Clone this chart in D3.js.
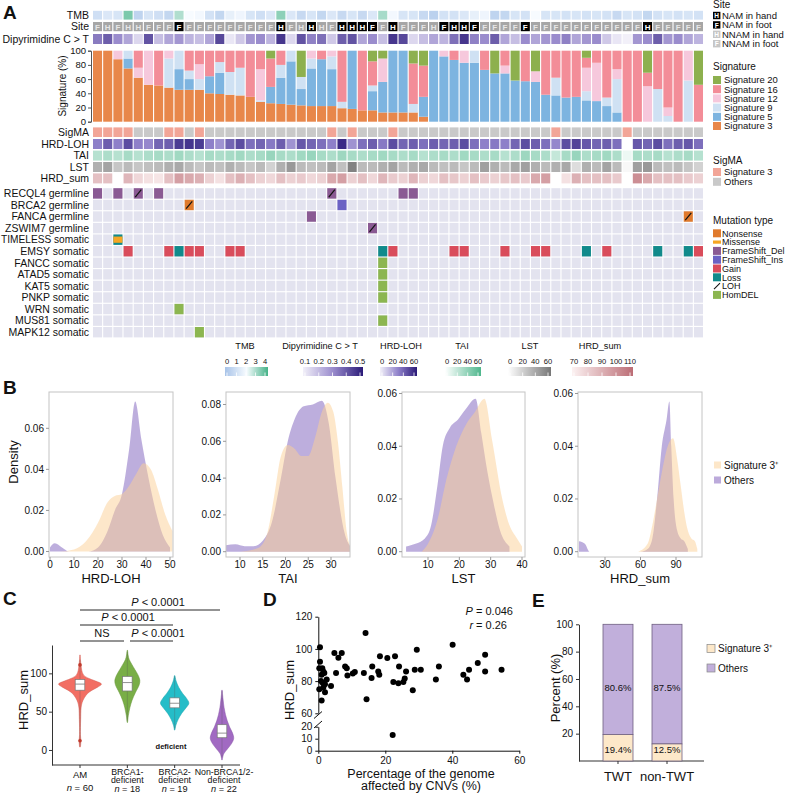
<!DOCTYPE html>
<html>
<head>
<meta charset="utf-8">
<script src="https://cdn.jsdelivr.net/npm/d3@7"></script>
<style>
  body { margin: 0; background: #fff; }
  svg { font-family: "Liberation Sans", Arial, sans-serif; }
</style>
</head>
<body>
<script>
// ---------------- data: panel A ----------------
// site: upper case = NNAM (grey), lower case = NAM (black); letter H = hand, F = foot
const siteCodes = "FHFHHFFFfFFFFFFFFFhFHhHFhhhfFh" + "FFFHfhhfFFFFfFFFFFFFFFFFhFFFFF"

const tmb = [1.0,1.3,1.2,3.4,0.6,1.2,1.0,0.7,2.8,2.0, 1.9,1.1,0.7,1.6,1.8,1.2,1.0,1.3,3.2,1.3,
             0.8,1.2,0.7,1.3,0.8,1.2,0.8,1.3,2.9,1.9, 1.2,1.2,0.8,0.5,1.1,1.1,1.3,1.6,1.8,0.6,
             0.7,1.2,1.1,2.0,1.2,1.2,1.1,1.2,1.1,1.2, 1.1,0.8,1.2,1.1,0.7,1.1,1.2,1.1,1.2,1.1]
const dipyrimidine = [0.33,0.38,0.3,0.25,0.15,0.4,0.2,0.25,0.28,0.22, 0.2,0.25,0.42,0.12,0.18,0.28,0.3,0.22,0.45,0.15,
             0.4,0.32,0.35,0.18,0.38,0.4,0.25,0.3,0.2,0.45, 0.42,0.15,0.2,0.25,0.22,0.35,0.45,0.32,0.3,0.38,
             0.25,0.2,0.3,0.25,0.28,0.3,0.32,0.25,0.28,0.3, 0.18,0.12,0.1,0.28,0.3,0.38,0.28,0.3,0.25,0.22]

const sig3  = [100,100,88,75,62,52,51,48,45,45, 45,40,39,38,37,35,28,26,25,24, 23,22,22,22,19,18,16,16,13,13,
               13,13,7,0,0,0,0,0,0,0, 0,0,0,0,0,0,0,0,0,0, 0,0,0,0,0,0,0,0,0,0]
const sig5  = [0,0,0,14,0,0,0,0,29,15, 0,24,30,0,0,0,0,23,37,61, 23,53,66,52,0,82,0,27,43,87,
               87,0,28,100,92,87,83,83,73,68, 68,58,57,56,38,37,34,35,30,29, 22,13,0,0,0,0,0,0,0,0]
const sig9  = [0,0,0,11,0,0,0,41,26,12, 15,0,15,32,39,0,2,0,18,15, 17,14,0,18,9,0,0,8,0,0,
               0,12,0,0,0,0,0,17,0,0, 0,0,0,0,0,25,0,0,13,0, 12,47,0,0,0,46,8,0,58,0]
const sig12 = [0,0,12,0,14,48,0,11,0,0, 21,0,0,0,0,0,44,0,0,0, 0,11,0,8,0,0,0,0,33,0,
               0,0,0,0,8,0,17,0,0,0, 11,0,0,15,0,0,0,0,33,54, 0,14,0,0,50,0,12,0,42,0]
const sig16 = [0,0,0,0,24,0,49,0,0,28, 19,36,16,30,24,65,26,40,20,0, 0,0,12,0,72,0,84,34,0,0,
               0,57,44,0,0,13,0,0,27,0, 21,0,43,0,62,38,66,65,14,17, 66,26,100,100,19,54,80,100,0,52]
const sig20 = [0,0,0,0,0,0,0,0,0,0, 0,0,0,0,0,0,0,11,0,0, 37,0,0,0,0,0,0,15,11,0,
               0,18,21,0,0,0,0,0,0,32, 0,42,0,29,0,0,0,0,10,0, 0,0,0,0,31,0,0,0,0,48]
const sigKeys = ["Signature 3","Signature 5","Signature 9","Signature 12","Signature 16","Signature 20"]
const sigColors = ["#e8874a","#7db4e0","#cfe1f3","#f6c8dc","#f38d98","#8db04e"]

const sigmaSig3Cols = [0,1,2,3,7,8,10,23,25,29,45,52]
const hrdLoh = [30,40,30,45,30,28,38,40,50,52, 50,30,25,38,45,35,38,32,40,25, 42,38,35,30,55,25,35,40,32,45,
                38,40,35,40,38,40,45,35,30,32, 30,38,45,40,35,28,45,48,42,38, 40,35,null,42,38,45,35,40,42,35]
const tai = [25,28,25,30,25,28,30,28,32,28, 25,30,28,30,32,28,30,35,30,28, 32,35,30,28,33,30,28,30,32,30,
             28,30,25,28,30,28,32,30,28,30, 25,28,33,30,28,20,30,35,28,30, 32,28,6,30,28,30,25,28,30,25]
const lst = [35,40,25,30,25,28,30,35,38,30, 25,30,28,35,30,25,30,20,35,45, 30,28,30,40,28,55,30,30,35,40,
             30,35,38,30,28,30,25,30,42,35, 30,38,42,35,30,35,38,15,35,30, 40,30,3,42,45,30,28,30,25,20]
const hrdSum = [85,85,null,88,78,75,74,85,95,92, 90,80,75,85,90,85,80,78,85,80, 82,78,80,92,95,80,85,78,88,82,
                80,88,80,78,85,83,80,85,82,80, 83,85,82,92,95,null,75,90,85,85, 85,82,null,100,92,85,85,85,82,80]

const geneNames = ["RECQL4 germline","BRCA2 germline","FANCA germline","ZSWIM7 germline","TIMELESS somatic",
  "EMSY somatic","FANCC somatic","ATAD5 somatic","KAT5 somatic","PNKP somatic","WRN somatic","MUS81 somatic","MAPK12 somatic"]
const alterations = [
  ["RECQL4 germline",0,"FrameShift_Del"],["RECQL4 germline",2,"FrameShift_Del"],["RECQL4 germline",4,"FrameShift_Del"],
  ["RECQL4 germline",6,"FrameShift_Del"],["RECQL4 germline",23,"FrameShift_Del"],["RECQL4 germline",30,"FrameShift_Del"],
  ["RECQL4 germline",31,"FrameShift_Del"],["BRCA2 germline",9,"Nonsense"],["BRCA2 germline",24,"FrameShift_Ins"],
  ["FANCA germline",21,"FrameShift_Del"],["FANCA germline",58,"Nonsense"],["ZSWIM7 germline",27,"FrameShift_Del"],
  ["TIMELESS somatic",2,"Loss"],["TIMELESS somatic",2,"Missense"],
  ["FANCC somatic",28,"HomDEL"],["ATAD5 somatic",28,"HomDEL"],["KAT5 somatic",28,"HomDEL"],["PNKP somatic",28,"HomDEL"],
  ["WRN somatic",8,"HomDEL"],["MUS81 somatic",28,"HomDEL"],["MAPK12 somatic",10,"HomDEL"]
]
const emsyGain = [3,7,9,10,13,14,29,35,36,40,43,44,50,59]
const emsyLoss = [8,28,48,55,58]
const lohCells = [["RECQL4 germline",4],["RECQL4 germline",23],["BRCA2 germline",9],["FANCA germline",58],["ZSWIM7 germline",27]]
const mutTypes = ["Nonsense","Missense","FrameShift_Del","FrameShift_Ins","Gain","Loss","LOH","HomDEL"]
const mutColors = ["#e07a2c","#f6a623","#8a5a93","#6b62c4","#d94c5b","#118a8b","#000","#8cb650"]

// ---------------- data: panel B (densities) ----------------
const lohOthers = [[0,0.002],[2,0.004],[5,0.002],[8,0],[16,0],[20,0.002],[24,0.01],[27,0.02],[30,0.028],[33,0.05],[35.5,0.073],[38,0.055],[41,0.036],[44,0.02],[47,0.008],[50,0.002]]
const lohSig3   = [[4,0],[10,0.001],[15,0.005],[20,0.014],[24,0.024],[27,0.027],[30,0.028],[33,0.032],[36,0.038],[39,0.043],[42,0.04],[45,0.03],[48,0.018],[51,0.01]]
const taiOthers = [[6,0.003],[9,0.004],[11,0.003],[13,0.003],[15,0.006],[17,0.016],[19,0.04],[20.5,0.06],[22,0.072],[24,0.079],[26,0.08],[28,0.082],[29.5,0.07],[31,0.04],[33,0.01],[34.5,0.002]]
const taiSig3   = [[10,0],[14,0.002],[16,0.01],[17.5,0.03],[19,0.052],[20.5,0.058],[22,0.056],[23.5,0.052],[25,0.052],[26.5,0.062],[28,0.076],[29.3,0.081],[30.5,0.076],[31.5,0.06],[32.5,0.035],[33.5,0.01],[34.5,0.002]]
const lstOthers = [[3,0.002],[6,0.003],[9,0.005],[11,0.01],[13,0.025],[14.7,0.04],[17,0.047],[19.5,0.05],[22,0.054],[25.2,0.058],[27,0.045],[29,0.03],[31,0.018],[33,0.008],[36,0.002]]
const lstSig3   = [[8,0],[10,0.003],[13,0.012],[16,0.028],[19,0.04],[22,0.048],[25,0.053],[28,0.058],[30.5,0.042],[33.7,0.02],[36,0.01],[38.4,0.005],[40,0.002]]
const sumOthers = [[8,0.004],[13,0.003],[17,0],[60,0],[66,0.001],[70,0.005],[74,0.02],[78,0.04],[82,0.05],[84.4,0.057],[86,0.04],[88,0.02],[91,0.008],[94,0.005],[97,0.004],[100,0.001]]
const sumSig3   = [[58,0],[66,0.003],[70,0.01],[74,0.02],[78,0.03],[83,0.04],[87.5,0.043],[91,0.035],[94,0.025],[97,0.015],[100,0.008],[103,0.005],[106,0.004],[108,0.001]]

// ---------------- data: panel C ----------------
const groupsC = ["AM","BRCA1-deficient","BRCA2-deficient","Non-BRCA1/2-deficient"]
const groupN = [60,18,19,22]
const violinColors = ["#f1665b","#72aa3d","#19b9c5","#9c62bf"]
// [HRD_sum, relative width]
const violinAM    = [[4,0.02],[12,0.04],[20,0.02],[40,0.03],[55,0.05],[62,0.1],[68,0.2],[74,0.36],[78,0.56],[82,0.82],[86,1],[90,0.72],[94,0.36],[98,0.16],[104,0.08],[110,0.05],[118,0.02],[124,0.01]]
const violinBRCA1 = [[36,0.02],[45,0.08],[55,0.2],[65,0.38],[75,0.65],[85,0.95],[91,1],[98,0.85],[105,0.6],[112,0.35],[118,0.15],[124,0.06],[130,0.02]]
const violinBRCA2 = [[26,0.02],[32,0.08],[40,0.25],[48,0.5],[55,0.8],[61,1],[67,0.85],[74,0.55],[82,0.28],[90,0.1],[97,0.02]]
const violinNon   = [[-13,0.02],[-5,0.15],[2,0.5],[8,0.8],[15,1],[22,0.9],[30,0.65],[38,0.45],[46,0.3],[55,0.18],[65,0.1],[72,0.05],[78,0.02]]
const violinHalfWidth = [21.5,12.5,14.2,11.7]
const boxQ1 = [78,77,55,16], boxMed = [86,88,61,22], boxQ3 = [92,96,68,33]
const whiskLo = [5,38,28,-10], whiskHi = [118,128,96,77]
const outliersAM = [12,111]

// ---------------- data: panel D ----------------
const cnvPct = [0.3,0.5,0.5,1.2,1.5,1.8,0.8,1.3,2.0,2.5,0.3,1.5,2.0,1.0,3.8,1.0,
  4.8,5.3,6.0,7.0,8.0,8.5,8.7,10.3,10.9,13.6,14.1,14.4,15.9,16.1,18.4,17.9,18.2,20.6,22.9,22.4,23.9,24.1,25.4,25.8,26.2,
  28.2,28.8,29.4,30.6,35.1,36.0,40.1,43.3,44.4,45.0,47.6,49.8,49.8,54.7,22.2]
const hrdSumD = [88,101,92,88,86,85,80,79,78,81,75,76,73,68,77,84,
  97.5,85,94.5,97.5,89,88,83.5,84.7,85.6,85,109.8,68.8,82,89,95.4,86,84,94.4,95.4,79.4,78.6,89,79.5,81.6,86,
  74.3,87,99.5,87,81,89,102.6,84,81,87,91.3,96.4,86,87,13]

// ---------------- data: panel E ----------------
const groupsE = ["TWT","non-TWT"]
const sig3PctE = [19.4,12.5]
const othersPctE = [80.6,87.5]

// =====================================================================
const svg = d3.select("body").append("svg").attr("width", 789).attr("height", 794)

function txt(x, y, s, size, anchor = "start", extra = {}) {
  const t = svg.append("text").attr("x", x).attr("y", y).attr("font-size", size)
    .attr("text-anchor", anchor).attr("fill", "#111").text(s)
  for (const k in extra) t.attr(k, extra[k])
  return t
}
function panelLetter(s, x, y) { txt(x, y, s, 19, "start", {"font-weight": "bold"}) }

// ---------------- Panel A ----------------
panelLetter("A", 3, 19)
const col = d3.scaleBand().domain(d3.range(60)).range([93, 703]).paddingInner(0.11)
const bw = col.bandwidth()

function rowLabel(s, yMid) {
  const t = txt(89, yMid + 3.7, s, 10.5, "end")
  // squeeze the longest labels so they stay inside the page like the original
  if (t.node().getComputedTextLength() > 88) t.attr("textLength", 88).attr("lengthAdjust", "spacingAndGlyphs")
}

function heatTrack(values, y, h, color) {
  svg.append("g").selectAll("rect").data(values).join("rect")
    .attr("x", (d, i) => col(i)).attr("y", y).attr("width", bw).attr("height", h)
    .attr("fill", d => d == null ? "#fff" : color(d))
}

const tmbColor = d3.scaleLinear().domain([0, 2, 4]).range(["#a7c3e8", "#f7fbff", "#46b388"])
const dipColor = d3.scaleLinear().domain([0.1, 0.3, 0.5]).range(["#f2f0f9", "#9a8ccd", "#2a1a78"])
const lohColor = d3.scaleLinear().domain([0, 30, 60]).range(["#f2f0f9", "#8e80c9", "#2a1a78"])
const taiColor = d3.scaleLinear().domain([0, 60]).range(["#ffffff", "#4fb78d"])
const lstColor = d3.scaleLinear().domain([0, 60]).range(["#ffffff", "#777777"])
const sumColor = d3.scaleLinear().domain([70, 110]).range(["#fcf2f2", "#bc6d75"])

heatTrack(tmb, 10.8, 8.8, tmbColor); rowLabel("TMB", 15.2)

// site row
const siteG = svg.append("g")
siteCodes.split("").forEach((c, i) => {
  const nam = c === c.toLowerCase()
  siteG.append("rect").attr("x", col(i)).attr("y", 22).attr("width", bw).attr("height", 9.2)
    .attr("fill", nam ? "#000" : "#a6a6a6")
  siteG.append("text").attr("x", col(i) + bw / 2).attr("y", 29.8).attr("text-anchor", "middle")
    .attr("font-size", 8).attr("font-weight", "bold").attr("fill", nam ? "#fff" : "#e6e6e6").text(c.toUpperCase())
})
rowLabel("Site", 26.6)

heatTrack(dipyrimidine, 34, 10, dipColor); rowLabel("Dipyrimidine C > T", 39)

// stacked signature bars
const ySig = d3.scaleLinear().domain([0, 100]).range([121.7, 50.7])
const sigRows = d3.range(60).map(i => {
  const r = {}
  const series = [sig3, sig5, sig9, sig12, sig16, sig20]
  sigKeys.forEach((k, j) => r[k] = series[j][i])
  return r
})
const stacked = d3.stack().keys(sigKeys)(sigRows)
svg.append("g").selectAll("g").data(stacked).join("g")
  .attr("fill", (d, i) => sigColors[i])
  .selectAll("rect").data(d => d).join("rect")
  .attr("x", (d, i) => col(i)).attr("width", bw)
  .attr("y", d => ySig(d[1])).attr("height", d => ySig(d[0]) - ySig(d[1]))

const sigAxis = svg.append("g").attr("transform", "translate(91,0)")
  .call(d3.axisLeft(ySig).tickValues([0, 20, 40, 60, 80, 100]).tickSize(3).tickPadding(2))
sigAxis.selectAll("text").attr("font-size", 9.5).attr("fill", "#111").attr("font-family", "Liberation Sans, Arial")
sigAxis.selectAll("line,path").attr("stroke", "#555")
txt(0, 0, "Signature (%)", 10, "middle", {transform: "translate(66,86) rotate(-90)"})

// SigMA + HRD tracks
heatTrack(d3.range(60).map(i => sigmaSig3Cols.includes(i) ? 1 : 0), 127.4, 9.6, d => d ? "#f2a597" : "#c9c9c9")
rowLabel("SigMA", 132.2)
heatTrack(hrdLoh, 139, 10, lohColor); rowLabel("HRD-LOH", 144)
heatTrack(tai, 150.6, 10, taiColor); rowLabel("TAI", 155.6)
heatTrack(lst, 162, 10, lstColor); rowLabel("LST", 167)
heatTrack(hrdSum, 173.4, 10, sumColor); rowLabel("HRD_sum", 178.4)

// gene matrix
const geneY = d3.scaleBand().domain(geneNames).range([188.2, 337.4]).paddingInner(0.1)
const gh = geneY.bandwidth()
const gridG = svg.append("g")
geneNames.forEach(g => {
  gridG.selectAll(null).data(d3.range(60)).join("rect")
    .attr("x", i => col(i)).attr("y", geneY(g)).attr("width", bw).attr("height", gh).attr("fill", "#e3e3ef")
  rowLabel(g, geneY(g) + gh / 2)
})
const typeColor = d3.scaleOrdinal(mutTypes, mutColors)
const allAlts = alterations.concat(emsyGain.map(c => ["EMSY somatic", c, "Gain"]), emsyLoss.map(c => ["EMSY somatic", c, "Loss"]))
allAlts.forEach(([g, c, t]) => {
  const y0 = geneY(g)
  if (t === "Missense") {
    gridG.append("rect").attr("x", col(c)).attr("y", y0 + gh * 0.2).attr("width", bw).attr("height", gh * 0.6).attr("fill", typeColor(t))
  } else {
    gridG.append("rect").attr("x", col(c)).attr("y", y0).attr("width", bw).attr("height", gh).attr("fill", typeColor(t))
  }
})
lohCells.forEach(([g, c]) => {
  gridG.append("line").attr("x1", col(c) + 1.5).attr("y1", geneY(g) + gh - 1.5)
    .attr("x2", col(c) + bw - 1.5).attr("y2", geneY(g) + 1.5).attr("stroke", "#111").attr("stroke-width", 1.2)
})

// right legends of panel A
const lgx = 713
txt(lgx, 8, "Site", 10)
const siteLeg = [["H", true, "NAM in hand"], ["F", true, "NAM in foot"], ["H", false, "NNAM in hand"], ["F", false, "NNAM in foot"]]
siteLeg.forEach(([l, nam, lab], i) => {
  const cy = 15.5 + i * 9.4
  svg.append("rect").attr("x", lgx).attr("y", cy - 3.7).attr("width", 7.4).attr("height", 7.4).attr("fill", nam ? "#000" : "#c6c6c6")
  svg.append("text").attr("x", lgx + 3.7).attr("y", cy + 2.6).attr("text-anchor", "middle").attr("font-size", 6.5)
    .attr("font-weight", "bold").attr("fill", "#fff").text(l)
  txt(lgx + 9, cy + 3.4, lab, 9.5)
})
txt(lgx, 70, "Signature", 10)
sigKeys.slice().reverse().forEach((k, i) => {
  const cy = 80 + i * 9.2
  svg.append("rect").attr("x", lgx).attr("y", cy - 4).attr("width", 8).attr("height", 8).attr("fill", sigColors[5 - i])
  txt(lgx + 11, cy + 3.4, k, 9.5)
})
txt(lgx, 164, "SigMA", 10)
;[["Signature 3", "#f2a597"], ["Others", "#c9c9c9"]].forEach(([k, c], i) => {
  const cy = 172 + i * 9.8
  svg.append("rect").attr("x", lgx).attr("y", cy - 4).attr("width", 8).attr("height", 8).attr("fill", c)
  txt(lgx + 11, cy + 3.4, k, 9.5)
})
txt(lgx, 224, "Mutation type", 10)
mutTypes.forEach((k, i) => {
  const cy = 233.3 + i * 8.8
  if (k === "LOH") {
    svg.append("line").attr("x1", lgx + 1).attr("y1", cy + 3).attr("x2", lgx + 7).attr("y2", cy - 3).attr("stroke", "#111").attr("stroke-width", 1.1)
  } else if (k === "Missense") {
    svg.append("rect").attr("x", lgx).attr("y", cy - 1.6).attr("width", 8).attr("height", 3.2).attr("fill", mutColors[i])
  } else {
    svg.append("rect").attr("x", lgx).attr("y", cy - 4).attr("width", 8).attr("height", 8).attr("fill", mutColors[i])
  }
  txt(lgx + 9, cy + 3.2, k, 9)
})

// colour bar legends
let gradN = 0
function colorBar(title, color, ticks, x0, x1, titleX) {
  const id = "grad" + (gradN++)
  const dom = d3.extent(color.domain())
  const grad = svg.append("defs").append("linearGradient").attr("id", id)
  d3.range(0, 1.0001, 0.1).forEach(f => {
    grad.append("stop").attr("offset", f).attr("stop-color", color(dom[0] + f * (dom[1] - dom[0])))
  })
  svg.append("rect").attr("x", x0).attr("y", 367).attr("width", x1 - x0).attr("height", 9).attr("fill", `url(#${id})`)
  const xs = d3.scaleLinear().domain([ticks[0], ticks[ticks.length - 1]]).range([x0 + 2, x1 - 3])
  ticks.forEach(t => {
    svg.append("line").attr("x1", xs(t)).attr("x2", xs(t)).attr("y1", 372.5).attr("y2", 376).attr("stroke", "#fff").attr("stroke-width", 0.8)
    txt(xs(t), 363.5, String(t), 7.6, "middle")
  })
  txt(titleX, 349, title, 9.2, "middle")
}
colorBar("TMB", tmbColor, [0, 1, 2, 3, 4], 225, 268, 245)
colorBar("Dipyrimidine C > T", dipColor, [0.1, 0.2, 0.3, 0.4, 0.5], 303, 363, 320)
colorBar("HRD-LOH", lohColor, [0, 20, 40, 60], 380, 417, 401)
colorBar("TAI", taiColor, [0, 20, 40, 60], 445, 481, 462)
colorBar("LST", lstColor, [0, 20, 40, 60], 508, 551, 530)
colorBar("HRD_sum", sumColor, [70, 80, 90, 100, 110], 572, 633, 600)

// ---------------- Panel B ----------------
panelLetter("B", 3, 394)
txt(0, 0, "Density", 13, "middle", {transform: "translate(18,462) rotate(-90)"})
function densityPanel(p) {
  const x = d3.scaleLinear().domain(p.xd).range(p.xr)
  const y = d3.scaleLinear().domain(p.yd).range(p.yr)
  const [bx0, by0, bx1, by1] = p.box
  const clip = "clip" + p.name.replace(/[^A-Za-z]/g, "")
  svg.append("clipPath").attr("id", clip).append("rect").attr("x", bx0).attr("y", by0).attr("width", bx1 - bx0).attr("height", by1 - by0)
  const area = d3.area().x(d => x(d[0])).y0(y(0)).y1(d => y(d[1])).curve(d3.curveMonotoneX)
  const g = svg.append("g").attr("clip-path", `url(#${clip})`)
  g.append("path").datum(p.others).attr("d", area).attr("fill", "#a48fd0").attr("fill-opacity", 0.72)
  g.append("path").datum(p.sig3).attr("d", area).attr("fill", "#fbcf95").attr("fill-opacity", 0.5)
  svg.append("rect").attr("x", bx0).attr("y", by0).attr("width", bx1 - bx0).attr("height", by1 - by0)
    .attr("fill", "none").attr("stroke", "#c4c4c4").attr("stroke-width", 1)
  p.yt.forEach(t => {
    svg.append("line").attr("x1", bx0 - 3).attr("x2", bx0).attr("y1", y(t)).attr("y2", y(t)).attr("stroke", "#999")
    txt(bx0 - 5, y(t) + 3.5, t.toFixed(2), 10, "end")
  })
  p.xt.forEach(t => {
    svg.append("line").attr("x1", x(t)).attr("x2", x(t)).attr("y1", by1).attr("y2", by1 + 3).attr("stroke", "#999")
    txt(x(t), 568, String(t), 10, "middle")
  })
  txt((bx0 + bx1) / 2, 583, p.name, 13, "middle")
}
densityPanel({name: "HRD-LOH", box: [49, 392, 173, 557], xd: [0, 50], xr: [50, 170], yd: [0, 0.06], yr: [551.5, 428.3],
  yt: [0, 0.02, 0.04, 0.06], xt: [0, 10, 20, 30, 40, 50], others: lohOthers, sig3: lohSig3})
densityPanel({name: "TAI", box: [226, 392, 350, 557], xd: [10, 30], xr: [240, 331], yd: [0, 0.08], yr: [551.7, 404.5],
  yt: [0, 0.02, 0.04, 0.06, 0.08], xt: [10, 15, 20, 25, 30], others: taiOthers, sig3: taiSig3})
densityPanel({name: "LST", box: [402, 392, 525, 557], xd: [10, 40], xr: [428, 522], yd: [0, 0.06], yr: [551.7, 393.5],
  yt: [0, 0.02, 0.04, 0.06], xt: [10, 20, 30, 40], others: lstOthers, sig3: lstSig3})
densityPanel({name: "HRD_sum", box: [578, 392, 702, 557], xd: [30, 90], xr: [605, 676], yd: [0, 0.06], yr: [551.7, 393.5],
  yt: [0, 0.02, 0.04, 0.06], xt: [30, 60, 90], others: sumOthers, sig3: sumSig3})
svg.append("rect").attr("x", 714).attr("y", 461.5).attr("width", 7).attr("height", 7).attr("fill", "#fde7c9")
txt(724, 468.5, "Signature 3\u207A", 10)
svg.append("rect").attr("x", 714).attr("y", 476.5).attr("width", 7).attr("height", 7).attr("fill", "#bcaadb")
txt(724, 483.5, "Others", 10)

// ---------------- Panel C ----------------
panelLetter("C", 3, 605)
const yC = d3.scaleLinear().domain([-19.6, 137]).range([765, 645])
const xC = d3.scalePoint().domain(groupsC).range([80, 222])
const axC = svg.append("g").attr("transform", "translate(52,0)").call(d3.axisLeft(yC).tickValues([0, 50, 100]).tickSize(3).tickPadding(2).tickSizeOuter(0))
axC.selectAll("text").attr("font-size", 10).attr("fill", "#111").attr("font-family", "Liberation Sans, Arial")
axC.selectAll("line,path").attr("stroke", "#333")
svg.append("line").attr("x1", 52).attr("x2", 240).attr("y1", 765).attr("y2", 765).attr("stroke", "#333")
txt(0, 0, "HRD_sum", 13, "middle", {transform: "translate(28,700) rotate(-90)"})
const violins = [violinAM, violinBRCA1, violinBRCA2, violinNon]
groupsC.forEach((gname, i) => {
  const cx = xC(gname)
  const area = d3.area().y(d => yC(d[0])).x0(d => cx - d[1] * violinHalfWidth[i]).x1(d => cx + d[1] * violinHalfWidth[i]).curve(d3.curveCatmullRom)
  svg.append("path").datum(violins[i]).attr("d", area).attr("fill", violinColors[i]).attr("fill-opacity", 0.95)
    .attr("stroke", d3.color(violinColors[i]).darker(0.4)).attr("stroke-width", 0.5)
  svg.append("line").attr("x1", cx).attr("x2", cx).attr("y1", yC(whiskLo[i])).attr("y2", yC(whiskHi[i])).attr("stroke", "#555").attr("stroke-width", 0.5).attr("stroke-opacity", 0.6)
  svg.append("rect").attr("x", cx - 4.8).attr("width", 9.6).attr("y", yC(boxQ3[i])).attr("height", yC(boxQ1[i]) - yC(boxQ3[i]))
    .attr("fill", "#fff").attr("stroke", "#777").attr("stroke-width", 0.7)
  svg.append("line").attr("x1", cx - 4.8).attr("x2", cx + 4.8).attr("y1", yC(boxMed[i])).attr("y2", yC(boxMed[i])).attr("stroke", "#777").attr("stroke-width", 0.8)
  svg.append("line").attr("x1", cx).attr("x2", cx).attr("y1", 765).attr("y2", 768).attr("stroke", "#333")
  const parts = gname === "AM" ? ["AM"] : gname.startsWith("Non") ? ["Non-BRCA1/2-", "deficient"] : [gname.split("-")[0] + "-", "deficient"]
  const lx = gname.startsWith("Non") ? cx + 2 : cx
  if (parts.length === 1) {
    txt(lx, 778, parts[0], 9.5, "middle")
    txt(lx, 791, "", 9.5, "middle").html(`<tspan font-style="italic">n</tspan> = ${groupN[i]}`)
  } else {
    txt(lx, 774.8, parts[0], 8.8, "middle")
    txt(lx, 783, parts[1], 8.8, "middle")
    txt(lx, 791.8, "", 9.2, "middle").html(`<tspan font-style="italic">n</tspan> = ${groupN[i]}`)
  }
})
outliersAM.forEach(v => svg.append("circle").attr("cx", xC("AM")).attr("cy", yC(v)).attr("r", 1.8).attr("fill", "#c0392b"))
txt(171, 749, "deficient", 7.5, "middle", {"font-weight": "bold"})
function sigBar(x1, x2, y, label, lx) {
  svg.append("line").attr("x1", x1).attr("x2", x2).attr("y1", y).attr("y2", y).attr("stroke", "#111").attr("stroke-width", 0.9)
  const t = txt(lx, y - 4, "", 11, "middle")
  if (label === "NS") t.text("NS")
  else t.html(`<tspan font-style="italic">P</tspan> &lt; 0.0001`)
}
sigBar(80, 220, 610, "P", 158)
sigBar(80, 173, 625, "P", 128)
sigBar(80, 124, 641, "NS", 102)
sigBar(130, 173, 641, "P", 158)

// ---------------- Panel D ----------------
panelLetter("D", 263, 606)
const xD = d3.scaleLinear().domain([0, 60]).range([318.3, 519.3])
const yDup = d3.scaleLinear().domain([60, 120]).range([713.3, 616.7])
const yDlo = d3.scaleLinear().domain([0, 20]).range([750.7, 726.7])
const axDx = svg.append("g").attr("transform", "translate(0,750.7)").call(d3.axisBottom(xD).tickValues([0, 20, 40, 60]).tickSize(3).tickSizeOuter(0))
const axDu = svg.append("g").attr("transform", "translate(318.3,0)").call(d3.axisLeft(yDup).tickValues([60, 80, 100, 120]).tickSize(3).tickSizeOuter(0))
const axDl = svg.append("g").attr("transform", "translate(318.3,0)").call(d3.axisLeft(yDlo).tickValues([0, 10, 20]).tickSize(3).tickSizeOuter(0))
;[axDx, axDu, axDl].forEach(a => {
  a.selectAll("text").attr("font-size", 10).attr("fill", "#111").attr("font-family", "Liberation Sans, Arial")
  a.selectAll("line,path").attr("stroke", "#111")
})
svg.append("line").attr("x1", 314).attr("y1", 718.5).attr("x2", 322).attr("y2", 711.5).attr("stroke", "#111").attr("stroke-width", 1)
svg.append("line").attr("x1", 314).attr("y1", 728).attr("x2", 322).attr("y2", 721).attr("stroke", "#111").attr("stroke-width", 1)
svg.append("g").selectAll("circle").data(cnvPct).join("circle")
  .attr("cx", d => xD(d)).attr("cy", (d, i) => hrdSumD[i] >= 60 ? yDup(hrdSumD[i]) : yDlo(hrdSumD[i]))
  .attr("r", 3).attr("fill", "#000")
txt(0, 0, "HRD_sum", 13, "middle", {transform: "translate(294,690) rotate(-90)"})
txt(421, 777.5, "Percentage of the genome", 12.5, "middle")
txt(421, 790, "affected by CNVs (%)", 12.5, "middle")
txt(513, 615, "", 11, "end").html(`<tspan font-style="italic">P</tspan> = 0.046`)
txt(507, 629, "", 11, "end").html(`<tspan font-style="italic">r</tspan> = 0.26`)

// ---------------- Panel E ----------------
panelLetter("E", 532, 607)
const yE = d3.scaleLinear().domain([0, 100]).range([761, 624.3])
const xE = d3.scaleBand().domain(groupsE).range([583.4, 701.6]).paddingInner(0.388).paddingOuter(0.4)
const axEy = svg.append("g").attr("transform", "translate(579,0)").call(d3.axisLeft(yE).tickValues([20, 40, 60, 80, 100]).tickSize(3).tickSizeOuter(0))
axEy.selectAll("text").attr("font-size", 10).attr("fill", "#111").attr("font-family", "Liberation Sans, Arial")
axEy.selectAll("line,path").attr("stroke", "#333")
svg.append("line").attr("x1", 579).attr("x2", 704).attr("y1", 761).attr("y2", 761).attr("stroke", "#333")
groupsE.forEach((g, i) => {
  const x0 = xE(g), w = xE.bandwidth()
  svg.append("rect").attr("x", x0).attr("width", w).attr("y", yE(100)).attr("height", yE(sig3PctE[i]) - yE(100))
    .attr("fill", "#c1afdb").attr("stroke", "#6e5f80").attr("stroke-width", 0.8)
  svg.append("rect").attr("x", x0).attr("width", w).attr("y", yE(sig3PctE[i])).attr("height", yE(0) - yE(sig3PctE[i]))
    .attr("fill", "#fde8c9").attr("stroke", "#6e5f80").attr("stroke-width", 0.8)
  txt(x0 + w / 2, 691, othersPctE[i].toFixed(1) + "%", 9.5, "middle")
  txt(x0 + w / 2, 753, sig3PctE[i].toFixed(1) + "%", 9.5, "middle")
  svg.append("line").attr("x1", x0 + w / 2).attr("x2", x0 + w / 2).attr("y1", 761).attr("y2", 764).attr("stroke", "#333")
  txt(x0 + w / 2, 781, g, 13, "middle")
})
txt(0, 0, "Percent (%)", 13, "middle", {transform: "translate(560,688) rotate(-90)"})
svg.append("rect").attr("x", 707).attr("y", 644.5).attr("width", 8).attr("height", 8).attr("fill", "#fde8c9").attr("stroke", "#888").attr("stroke-width", 0.7)
txt(718, 652, "Signature 3\u207A", 10)
svg.append("rect").attr("x", 707).attr("y", 664).attr("width", 8).attr("height", 8).attr("fill", "#c1afdb").attr("stroke", "#888").attr("stroke-width", 0.7)
txt(718, 671.5, "Others", 10)
</script>
</body>
</html>
